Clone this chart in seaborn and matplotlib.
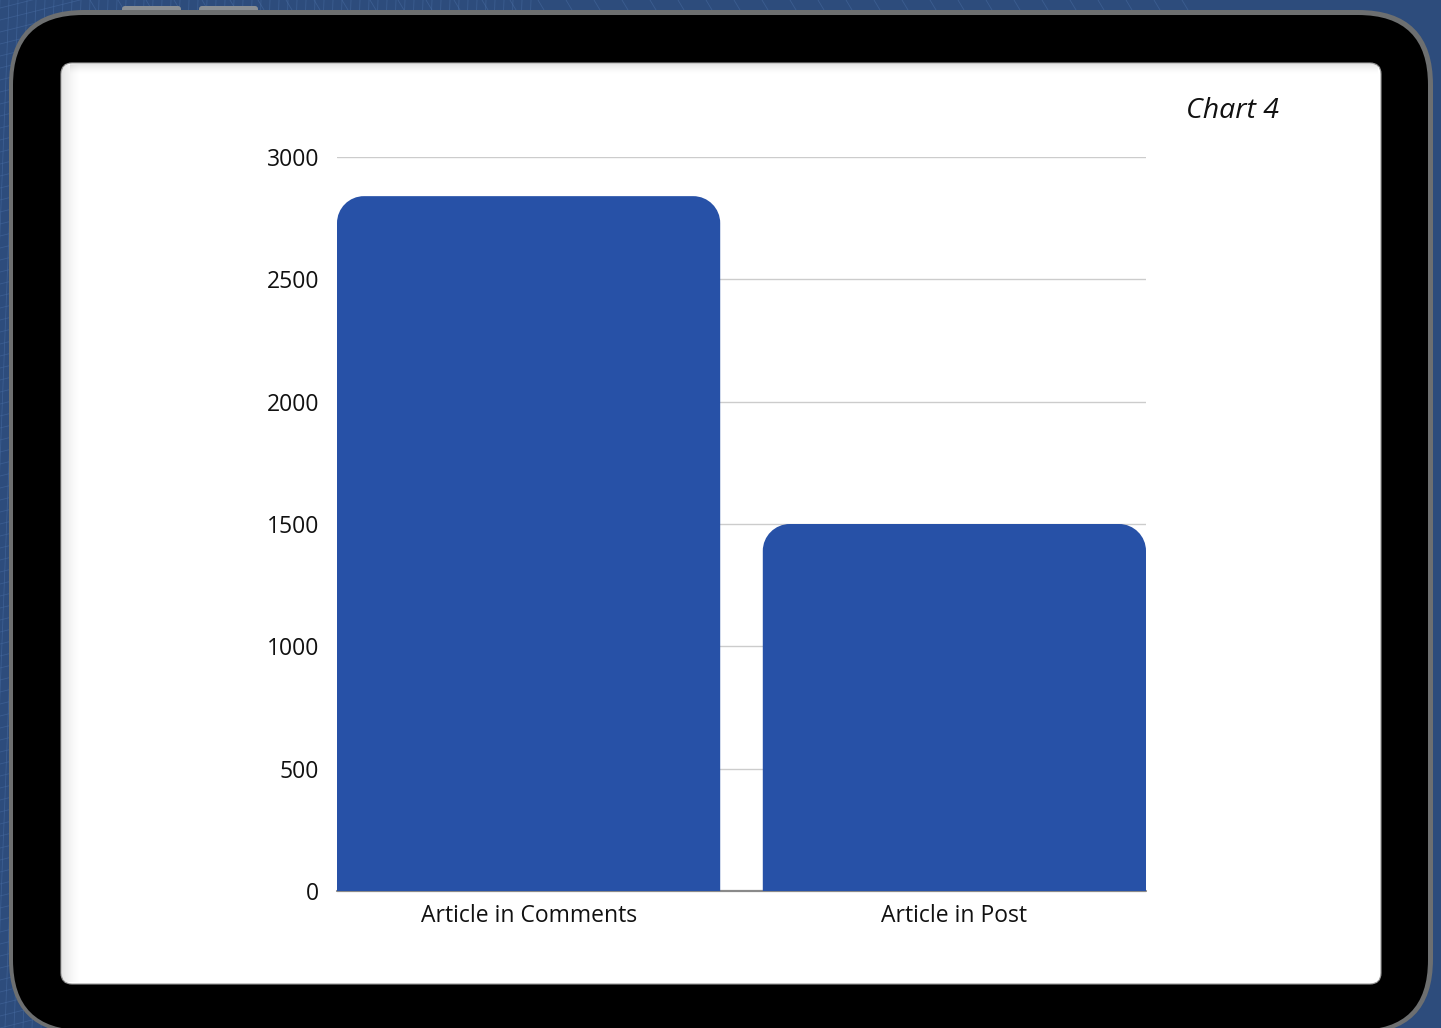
import matplotlib
matplotlib.use("Agg")
import matplotlib.pyplot as plt
import seaborn as sns
import numpy as np
from matplotlib.patches import FancyBboxPatch, PathPatch, Rectangle
from matplotlib.path import Path
from matplotlib.lines import Line2D
from matplotlib.transforms import IdentityTransform

# ---- data ----
categories = ["Article in Comments", "Article in Post"]
values = [2840, 1500]
y_ticks = [0, 500, 1000, 1500, 2000, 2500, 3000]
title = "Chart 4"

W, H = 1441, 1028
sns.set_theme(style="white")
plt.rcParams['font.family'] = ['Open Sans', 'DejaVu Sans']

fig = plt.figure(figsize=(W / 100, H / 100), dpi=100)
fig.patch.set_facecolor('#2d4c7c')
PX = IdentityTransform()


def box(x0, y0, x1, y1, r, z, **kw):
    # pixel coords with y from top
    p = FancyBboxPatch((x0, H - y1), x1 - x0, y1 - y0,
                       boxstyle=f"round,pad=0,rounding_size={r}",
                       transform=PX, zorder=z, **kw)
    fig.add_artist(p)
    return p


# background texture (blue grid)
for i in range(0, 60):
    x = i * 9
    fig.add_artist(Line2D([x, x - 40], [H, 0], transform=PX, color='#4a6fa5',
                          lw=0.6, alpha=0.5, zorder=0.1))
for j in range(0, 90):
    y = j * 12
    fig.add_artist(Line2D([0, 80], [y, y + 20], transform=PX, color='#4a6fa5',
                          lw=0.6, alpha=0.5, zorder=0.1))
for i in range(0, 40):
    x = 90 + i * 28
    fig.add_artist(Line2D([x, x + 15], [H, H - 25], transform=PX, color='#4a6fa5',
                          lw=0.6, alpha=0.5, zorder=0.1))

# tablet buttons
box(122, 6, 181, 14, 3, 0.3, facecolor='#8a8f94', edgecolor='none')
box(199, 6, 258, 14, 3, 0.3, facecolor='#8a8f94', edgecolor='none')

# tablet frame
box(9, 10, 1433, 1034, 75, 0.4, facecolor='#6d6f70', edgecolor='none')
box(13, 15, 1428, 1030, 70, 0.5, facecolor='#000000', edgecolor='none')

# white panel with subtle inner shadow
box(61, 63, 1381, 984, 11, 0.6, facecolor='#ffffff', edgecolor='#9a9a9a', lw=0.8)
for k in range(18):
    a = 0.10 * (1 - k / 18) ** 1.5
    fig.add_artist(Rectangle((62 + k, H - 982), 1, 917, transform=PX, zorder=0.7,
                             facecolor='#000000', alpha=a, edgecolor='none'))
for k in range(10):
    a = 0.10 * (1 - k / 10) ** 1.5
    fig.add_artist(Rectangle((70, H - 65 - k), 1308, 1, transform=PX, zorder=0.7,
                             facecolor='#000000', alpha=a, edgecolor='none'))

# ---- chart ----
ax = fig.add_axes([337 / W, 1 - 891 / H, (1146 - 337) / W, (891 - 157) / H])
ax.set_facecolor('none')
ax.set_zorder(5)

sns.barplot(x=categories, y=values, ax=ax, color='#2751a7', saturation=1,
            width=0.9, zorder=3)
ax.set_xlim(-0.45, 1.45)
ax.set_ylim(0, 3000)
ax.set_yticks(y_ticks)
ax.set_yticklabels([str(t) for t in y_ticks])
ax.yaxis.grid(True, color='#cccccc', lw=1)
ax.xaxis.grid(False)
ax.set_axisbelow(True)
ax.axhline(0, color='#8a8a8a', lw=1.6, zorder=1, clip_on=False)
for s in ax.spines.values():
    s.set_visible(False)
ax.set_xlabel('')
ax.set_ylabel('')
ax.tick_params(axis='y', length=0, pad=13, labelsize=16.5, labelcolor='#111111')
ax.tick_params(axis='x', length=0, pad=9, labelsize=16.5, labelcolor='#111111')

# round bar tops
fig.canvas.draw()
inv = ax.transData.inverted()
p0 = inv.transform((0, 0))
p1 = inv.transform((27, 27))
rx, ry = p1[0] - p0[0], p1[1] - p0[1]
kap = 0.5523
for patch in list(ax.patches):
    x0, y0 = patch.get_x(), patch.get_y()
    w, h = patch.get_width(), patch.get_height()
    x1, y1 = x0 + w, y0 + h
    verts = [(x0, y0), (x0, y1 - ry),
             (x0, y1 - ry + kap * ry), (x0 + rx - kap * rx, y1), (x0 + rx, y1),
             (x1 - rx, y1),
             (x1 - rx + kap * rx, y1), (x1, y1 - ry + kap * ry), (x1, y1 - ry),
             (x1, y0), (x0, y0)]
    codes = [Path.MOVETO, Path.LINETO,
             Path.CURVE4, Path.CURVE4, Path.CURVE4,
             Path.LINETO,
             Path.CURVE4, Path.CURVE4, Path.CURVE4,
             Path.LINETO, Path.CLOSEPOLY]
    fc = patch.get_facecolor()
    patch.set_visible(False)
    ax.add_patch(PathPatch(Path(verts, codes), facecolor=fc, edgecolor='none', zorder=3))

fig.text(1233 / W, 1 - 111 / H, title, style='italic', ha='center', va='center',
         fontsize=20.5, color='#111111', zorder=6)

fig.savefig('out.png', dpi=100, facecolor=fig.get_facecolor())
